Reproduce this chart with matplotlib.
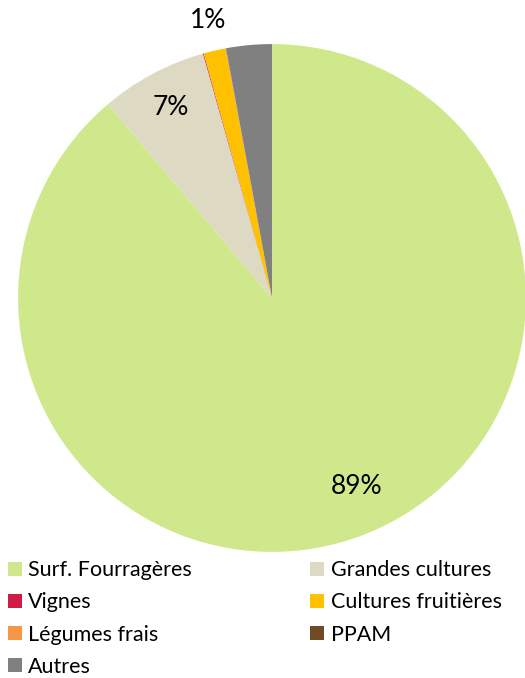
import numpy as np
import matplotlib
matplotlib.use("Agg")
import matplotlib.pyplot as plt

plt.rcParams['font.family'] = ['Lato', 'DejaVu Sans']

# share of agricultural area (%)
categories = ['Surf. Fourragères', 'Grandes cultures', 'Vignes', 'Cultures fruitières',
              'Légumes frais', 'PPAM', 'Autres']
values = [88.8, 6.8, 0.05, 1.4, 0.02, 0.01, 2.9]
labels_shown = ['89%', '7%', '', '1%', '', '', '']
label_dist = [0.815, 0.85, 0, 1.12, 0, 0, 0]
label_turn = [4, 0, 0, 0, 0, 0, 0]  # small nudge in degrees, like Excel's best fit
colors = ['#CFE88C', '#DDD9C3', '#D01C45', '#FFC000', '#F79646', '#6F4A24', '#808080']

fig = plt.figure(figsize=(5.25, 6.78), dpi=100)
ax = fig.add_axes([0.0343, 0.186, 0.9676, 0.749])

wedges, _ = ax.pie(values, colors=colors, startangle=90, counterclock=False,
                   wedgeprops=dict(linewidth=0))
ax.set_xlim(-1, 1)
ax.set_ylim(-1, 1)
ax.set_aspect('equal')

for w, lab, d, t in zip(wedges, labels_shown, label_dist, label_turn):
    if not lab:
        continue
    ang = np.deg2rad((w.theta1 + w.theta2) / 2 + t)
    ax.text(d * np.cos(ang), d * np.sin(ang), lab, ha='center', va='center',
            fontsize=19, color='black', clip_on=False)

# legend rows read left to right, matplotlib fills columns first
order = [0, 2, 4, 6, 1, 3, 5]
leg = fig.legend([wedges[i] for i in order], [categories[i] for i in order],
                 ncol=2, loc='upper left', bbox_to_anchor=(0.0, 0.1845),
                 frameon=False, fontsize=15.5, handlelength=0.65, handleheight=0.65,
                 handletextpad=0.3, columnspacing=5.5, labelspacing=0.56,
                 borderaxespad=0.0, borderpad=0.35)

fig.savefig('out.png', dpi=100)
